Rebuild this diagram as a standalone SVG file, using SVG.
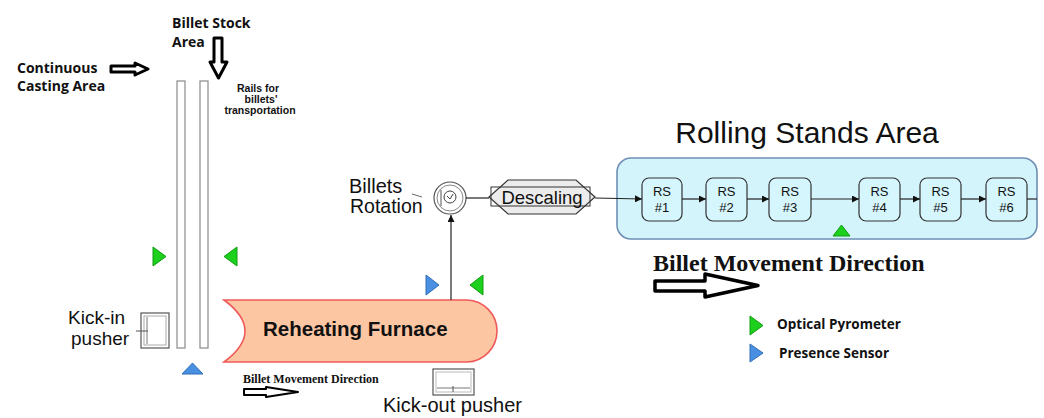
<svg xmlns="http://www.w3.org/2000/svg" width="1044" height="418" viewBox="0 0 1044 418">
<defs>
<style>
.sans{font-family:"Liberation Sans",Arial,sans-serif;fill:#111}
.os{font-family:"Open Sans","Liberation Sans",sans-serif;font-weight:bold;fill:#111}
.serif{font-family:"Liberation Serif","Times New Roman",serif;font-weight:bold;fill:#111}
.rail{fill:#fff;stroke:#8a8a8a;stroke-width:1.2}
.green{fill:#1ed01e;stroke:#119a11;stroke-width:1}
.blue{fill:#4a90e2;stroke:#2f6db5;stroke-width:1}
.hollow{fill:#fff;stroke:#000;stroke-width:3;stroke-linejoin:round}
.conn{stroke:#222;stroke-width:1.2;fill:none}
.rs{fill:#d6f6fd;stroke:#333;stroke-width:1.2}
.rst{font-family:"Liberation Sans",Arial,sans-serif;font-size:13px;fill:#111;text-anchor:middle}
</style>
<marker id="ah" viewBox="0 0 10 10" refX="10" refY="5" markerWidth="7" markerHeight="7" orient="auto" markerUnits="userSpaceOnUse">
<path d="M0,0 L10,5 L0,10 z" fill="#111"/>
</marker>
</defs>
<rect width="1044" height="418" fill="#fff"/>

<g id="casting-area">
<text class="os" font-size="14" x="17" y="73">Continuous</text>
<text class="os" font-size="14" x="17" y="91">Casting Area</text>
<path class="hollow" d="M111,66 L135,66 L135,63 L148,69 L135,75 L135,72 L111,72 Z"/>
</g>

<g id="stock-area">
<text class="os" font-size="14" x="172" y="28">Billet Stock</text>
<text class="os" font-size="14" x="172" y="47">Area</text>
<path class="hollow" d="M214,38 L222,38 L222,62 L227,62 L218.5,78 L210,62 L214,62 Z"/>
</g>

<g id="rails">
<rect class="rail" x="177" y="81" width="8" height="267"/>
<rect class="rail" x="200" y="81" width="8" height="267"/>
<g class="sans" font-size="10.5" font-weight="bold" text-anchor="middle">
<text x="258" y="92">Rails for</text>
<text x="261" y="103">billets'</text>
<text x="260" y="114">transportation</text>
</g>
</g>

<g id="rail-sensors">
<polygon class="green" points="153,247 166,256.5 153,266"/>
<polygon class="green" points="237,247 224,256.5 237,266"/>
<polygon class="blue" points="182,374 192.5,363 203,374"/>
</g>

<g id="kick-in-pusher">
<rect x="141" y="313" width="28" height="35" fill="#fff" stroke="#555" stroke-width="1.2"/>
<rect x="144" y="316" width="22" height="29" fill="none" stroke="#aaa" stroke-width="1"/>
<line x1="147" y1="317" x2="147" y2="344" stroke="#777" stroke-width="1"/>
<line x1="136" y1="331" x2="148" y2="331" stroke="#555" stroke-width="1"/>
<text class="sans" font-size="19" x="68" y="324">Kick-in</text>
<text class="sans" font-size="19" x="71" y="345">pusher</text>
</g>

<g id="furnace">
<path d="M224,300 L467,300 A31,31 0 0 1 497,331 A31,31 0 0 1 467,362 L224,362 Q266,331 224,300 Z" fill="#fcc6a3" stroke="#ef5a5a" stroke-width="1.6"/>
<text class="sans" font-size="20.5" font-weight="bold" x="263" y="336">Reheating Furnace</text>
</g>

<g id="furnace-sensors">
<polygon class="blue" points="426,275 439,285 426,295"/>
<polygon class="green" points="483,275 470,285 483,295"/>
</g>

<g id="kick-out-pusher">
<rect x="433" y="369" width="41" height="26" fill="#fff" stroke="#555" stroke-width="1.2"/>
<rect x="436" y="372" width="35" height="20" fill="none" stroke="#bbb" stroke-width="1"/>
<line x1="437" y1="388" x2="470" y2="388" stroke="#777" stroke-width="1"/>
<line x1="453" y1="386" x2="453" y2="392" stroke="#555" stroke-width="1"/>
<text class="sans" font-size="20" x="383" y="412">Kick-out pusher</text>
</g>

<g id="billet-movement-small">
<text class="serif" font-size="12" x="243" y="383">Billet Movement Direction</text>
<path class="hollow" style="stroke-width:2" d="M244,389 L266,389 L266,387 L298,392 L266,397 L266,395 L244,395 Z"/>
</g>

<g id="billets-rotation">
<text class="sans" font-size="20" x="349" y="193">Billets</text>
<text class="sans" font-size="19.5" x="350" y="213">Rotation</text>
<line x1="412" y1="194" x2="422" y2="197" stroke="#666" stroke-width="1"/>
<circle cx="450" cy="198" r="16" fill="#fff" stroke="#555" stroke-width="1.2"/>
<circle cx="450" cy="198" r="13" fill="none" stroke="#888" stroke-width="1"/>
<line x1="441" y1="190" x2="441" y2="206" stroke="#555" stroke-width="1"/>
<circle cx="450" cy="197" r="6" fill="none" stroke="#444" stroke-width="1"/>
<path d="M447,196 L450,199 L453,194" fill="none" stroke="#444" stroke-width="1"/>
</g>

<g id="descaling">
<polygon points="489,197 508,180 576,180 595,197 576,214 508,214" fill="#ececec" stroke="#333" stroke-width="1.2"/>
<rect x="491" y="187" width="99" height="19" fill="none" stroke="#333" stroke-width="1"/>
<text class="sans" font-size="18.5" x="542" y="203.5" text-anchor="middle">Descaling</text>
</g>

<g id="rolling-stands-area">
<text class="sans" font-size="30" x="807" y="143" text-anchor="middle">Rolling Stands Area</text>
<rect x="617" y="158" width="420" height="81" rx="14" fill="#d4f4fc" stroke="#6f8fb5" stroke-width="1.6"/>
</g>

<g id="rs1"><rect class="rs" x="642" y="178" width="40" height="43" rx="7"/><text class="rst" x="662" y="196">RS</text><text class="rst" x="662" y="212">#1</text></g>
<g id="rs2"><rect class="rs" x="706" y="178" width="41" height="43" rx="7"/><text class="rst" x="726.5" y="196">RS</text><text class="rst" x="726.5" y="212">#2</text></g>
<g id="rs3"><rect class="rs" x="769" y="178" width="42" height="43" rx="7"/><text class="rst" x="790" y="196">RS</text><text class="rst" x="790" y="212">#3</text></g>
<g id="rs4"><rect class="rs" x="859" y="178" width="41" height="43" rx="7"/><text class="rst" x="879.5" y="196">RS</text><text class="rst" x="879.5" y="212">#4</text></g>
<g id="rs5"><rect class="rs" x="920" y="178" width="41" height="43" rx="7"/><text class="rst" x="940.5" y="196">RS</text><text class="rst" x="940.5" y="212">#5</text></g>
<g id="rs6"><rect class="rs" x="986" y="178" width="41" height="43" rx="7"/><text class="rst" x="1006.5" y="196">RS</text><text class="rst" x="1006.5" y="212">#6</text></g>

<g id="rolling-sensor">
<polygon class="green" points="833,236 841.5,225 850,236"/>
</g>

<g id="connectors">
<line class="conn" x1="451" y1="300" x2="451" y2="215" stroke="#666" marker-end="url(#ah)"/>
<line class="conn" x1="466" y1="198" x2="489" y2="198"/>
<line class="conn" x1="595" y1="198" x2="642" y2="199" marker-end="url(#ah)"/>
<line class="conn" x1="682" y1="199" x2="706" y2="199" marker-end="url(#ah)"/>
<line class="conn" x1="747" y1="199" x2="769" y2="199" marker-end="url(#ah)"/>
<line class="conn" x1="811" y1="199" x2="859" y2="199" marker-end="url(#ah)"/>
<line class="conn" x1="900" y1="199" x2="920" y2="199" marker-end="url(#ah)"/>
<line class="conn" x1="961" y1="199" x2="986" y2="199" marker-end="url(#ah)"/>
<line class="conn" x1="1027" y1="199" x2="1037" y2="199"/>
</g>

<g id="billet-movement-large">
<text class="serif" font-size="24" x="653" y="271">Billet Movement Direction</text>
<path class="hollow" style="stroke-width:3.5" d="M655,281 L705,281 L705,274 L758,285.5 L705,297 L705,291 L655,291 Z"/>
</g>

<g id="legend">
<polygon class="green" points="750,316 763,325.5 750,335"/>
<text class="os" font-size="13.5" x="777" y="329">Optical Pyrometer</text>
<polygon class="blue" points="750,344 763,353 750,362"/>
<text class="os" font-size="13.5" x="779" y="358">Presence Sensor</text>
</g>
</svg>
